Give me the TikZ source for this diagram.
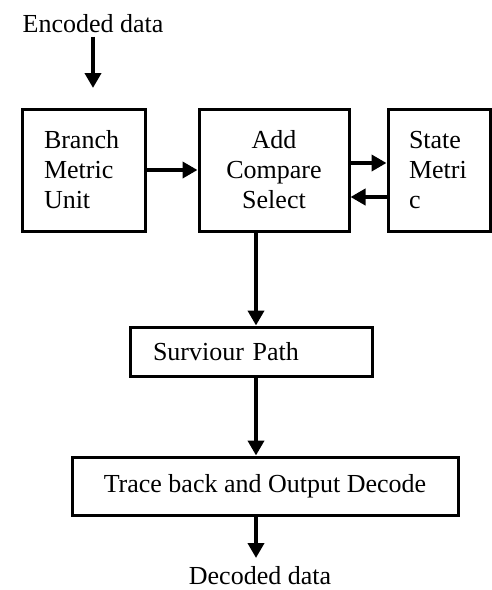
\documentclass[tikz,border=0pt]{standalone}
\usepackage{fontspec}
\setmainfont{Liberation Serif}
\usetikzlibrary{positioning, arrows.meta}

\begin{document}
\begin{tikzpicture}[x=1pt, y=-1pt,
  every node/.style={font=\fontsize{26}{30}\selectfont},
  blockbox/.style={draw, line width=3pt, inner ysep=0pt},
  flow/.style={-{Triangle[length=15pt, width=16pt]}, line width=4pt}]
  \useasboundingbox (0,0) rectangle (492,590);

  % Inputs and outputs
  \node (enc) at (93,24) {Encoded data};
  \node (dec) at (260,576) {Decoded data};

  % Blocks
  \node[blockbox, minimum height=122pt, inner xsep=22pt, text width=79pt, align=left] (bmu) at (83.5,170) {Branch\\Metric\\Unit};
  \node[blockbox, minimum height=122pt, minimum width=150pt, align=center] (acs) at (274,170) {Add\\Compare\\Select};
  \node[blockbox, minimum height=122pt, inner xsep=21pt, text width=60pt, align=left] (smu) at (439,170) {State\\Metri\\c};
  \node[blockbox, minimum height=49pt, inner xsep=23pt, text width=196pt, align=left] (spu) at (251,351.5) {Surviour Path};
  \node[blockbox, minimum height=58pt, minimum width=386pt] (tbu) at (265,486) {Trace back and Output Decode};

  % Connectors
  \coordinate (spine) at (256,0);
  \coordinate (encin) at (93,88);
  \coordinate (decout) at (256,558);
  \draw[flow] (enc) -- (encin);
  \draw[flow] (bmu) -- (acs);
  \draw[flow] ([yshift=7pt]acs.east) -- ([yshift=7pt]smu.west);
  \draw[flow] ([yshift=-27pt]smu.west) -- ([yshift=-27pt]acs.east);
  \draw[flow] (acs.south -| spine) -- (spu.north -| spine);
  \draw[flow] (spu.south -| spine) -- (tbu.north -| spine);
  \draw[flow] (tbu.south -| spine) -- (decout);
\end{tikzpicture}
\end{document}
